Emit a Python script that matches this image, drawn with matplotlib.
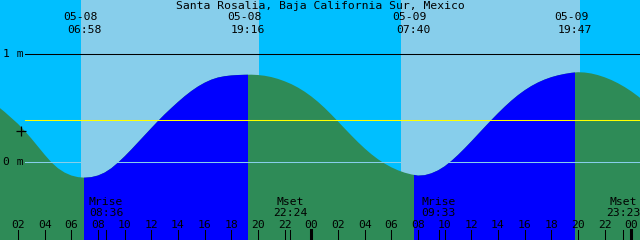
import matplotlib.pyplot as plt
import matplotlib.transforms as mtransforms


title = "Santa Rosalia, Baja California Sur, Mexico"

# tide level (m) every half hour, hour 0 = 05-08 00:00
hours = [i / 2 for i in range(99)]
level_m = [0.56, 0.515, 0.465, 0.41, 0.355, 0.29, 0.22, 0.145, 0.07, 0.0,
           -0.055, -0.095, -0.122, -0.137, -0.142, -0.137, -0.122, -0.095, -0.055, -0.003,
           0.055, 0.118, 0.184, 0.25, 0.316, 0.381, 0.443, 0.501, 0.557, 0.61,
           0.658, 0.70, 0.735, 0.763, 0.783, 0.795, 0.802, 0.806, 0.808, 0.809,
           0.806, 0.799, 0.787, 0.770, 0.748, 0.722, 0.69, 0.652, 0.608, 0.558,
           0.502, 0.441, 0.377, 0.312, 0.248, 0.186, 0.128, 0.075, 0.028, -0.012,
           -0.046, -0.074, -0.096, -0.112, -0.123, -0.119, -0.102, -0.075, -0.037, 0.012,
           0.068, 0.129, 0.193, 0.259, 0.325, 0.39, 0.453, 0.513, 0.569, 0.62,
           0.665, 0.704, 0.737, 0.764, 0.786, 0.803, 0.816, 0.826, 0.832, 0.829,
           0.82, 0.805, 0.785, 0.76, 0.73, 0.695, 0.655, 0.61, 0.56]

sun_dates = ["05-08", "05-08", "05-09", "05-09"]
sun_times = ["06:58", "19:16", "07:40", "19:47"]

moon_names = ["Mrise", "Mset", "Mrise", "Mset"]
moon_dates = ["05-08", "05-08", "05-09", "05-09"]
moon_times = ["08:36", "22:24", "09:33", "23:23"]

# lighter sky bands (start, end) in hours
sky_start = [6.72, 30.72]
sky_end = [20.08, 44.15]

mean_level = 0.39
now_hour, now_level = 2.2, 0.29

t0 = 0.65  # first hour shown


def to_hour(date, hm):
    day = int(date.split("-")[1]) - 8
    h, m = hm.split(":")
    return day * 24 + int(h) + int(m) / 60


DEEP_SKY = "#00BFFF"
LIGHT_SKY = "#87CEEB"
DAY = "#0000FF"
NIGHT = "#2E8B57"
FONT = dict(family="DejaVu Sans Mono", fontsize=8.2, color="black")

fig = plt.figure(figsize=(6.4, 2.4), dpi=100)
fig.patch.set_facecolor(DEEP_SKY)
ax = fig.add_axes([0, 0, 1, 1])
ax.set_axis_off()
ax.set_xlim(t0, t0 + 48)
# 0 m at 162.3 px from top, 108.3 px per metre
ax.set_ylim(-(240 - 162.3) / 108.3, 162.3 / 108.3)

for s, e in zip(sky_start, sky_end):
    ax.axvspan(s, e, color=LIGHT_SKY, lw=0, zorder=1)

bottom = ax.get_ylim()[0]
poly = ax.fill_between(hours, level_m, bottom, color=NIGHT, lw=0, zorder=2)
clip = poly.get_paths()[0]

sun_h = [to_hour(d, t) for d, t in zip(sun_dates, sun_times)]
for rise, sset in zip(sun_h[0::2], sun_h[1::2]):
    sp = ax.axvspan(rise, sset, color=DAY, lw=0, zorder=3)
    sp.set_clip_path(clip, transform=ax.transData)

# level lines
ax.axhline(1, xmin=25 / 640, color="black", lw=0.75, zorder=4)
ax.axhline(0, xmin=25 / 640, color=LIGHT_SKY, lw=0.75, zorder=4)
ax.axhline(mean_level, xmin=25 / 640, color="#FFFF00", lw=0.75, zorder=4)
ax.plot([now_hour], [now_level], marker="+", ms=7, mew=0.9, color="black", zorder=5)

ylab = mtransforms.blended_transform_factory(ax.transAxes, ax.transData)
ax.text(0.004, 1, "1 m", transform=ylab, ha="left", va="center", **FONT)
ax.text(0.004, 0, "0 m", transform=ylab, ha="left", va="center", **FONT)

xtr = ax.get_xaxis_transform()

ax.text(0.5, 1 - 6 / 240, title, transform=ax.transAxes, ha="center", va="center", **FONT)

for d, t, h in zip(sun_dates, sun_times, sun_h):
    ax.annotate(d, (h, 1 - 17 / 240), xycoords=xtr, xytext=(-4, 0),
                textcoords="offset pixels", ha="center", va="center", **FONT)
    ax.text(h, 1 - 30 / 240, t, transform=xtr, ha="center", va="center", **FONT)

# hour ticks and labels
for h in range(2, 49, 2):
    lw = 2.2 if h % 24 == 0 else 0.75
    ax.axvline(h, ymin=0, ymax=10 / 240, color="black", lw=lw, zorder=6)
    ax.text(h, 1 - 225 / 240, f"{h % 24:02d}", transform=xtr, ha="center", va="center", **FONT)

for name, d, t in zip(moon_names, moon_dates, moon_times):
    h = to_hour(d, t)
    ax.axvline(h, ymin=0, ymax=10 / 240, color="black", lw=0.75, zorder=6)
    ax.text(h, 1 - 202 / 240, name, transform=xtr, ha="center", va="center", **FONT)
    ax.text(h, 1 - 213 / 240, t, transform=xtr, ha="center", va="center", **FONT)

fig.savefig("out.png", dpi=100, facecolor=fig.get_facecolor())
